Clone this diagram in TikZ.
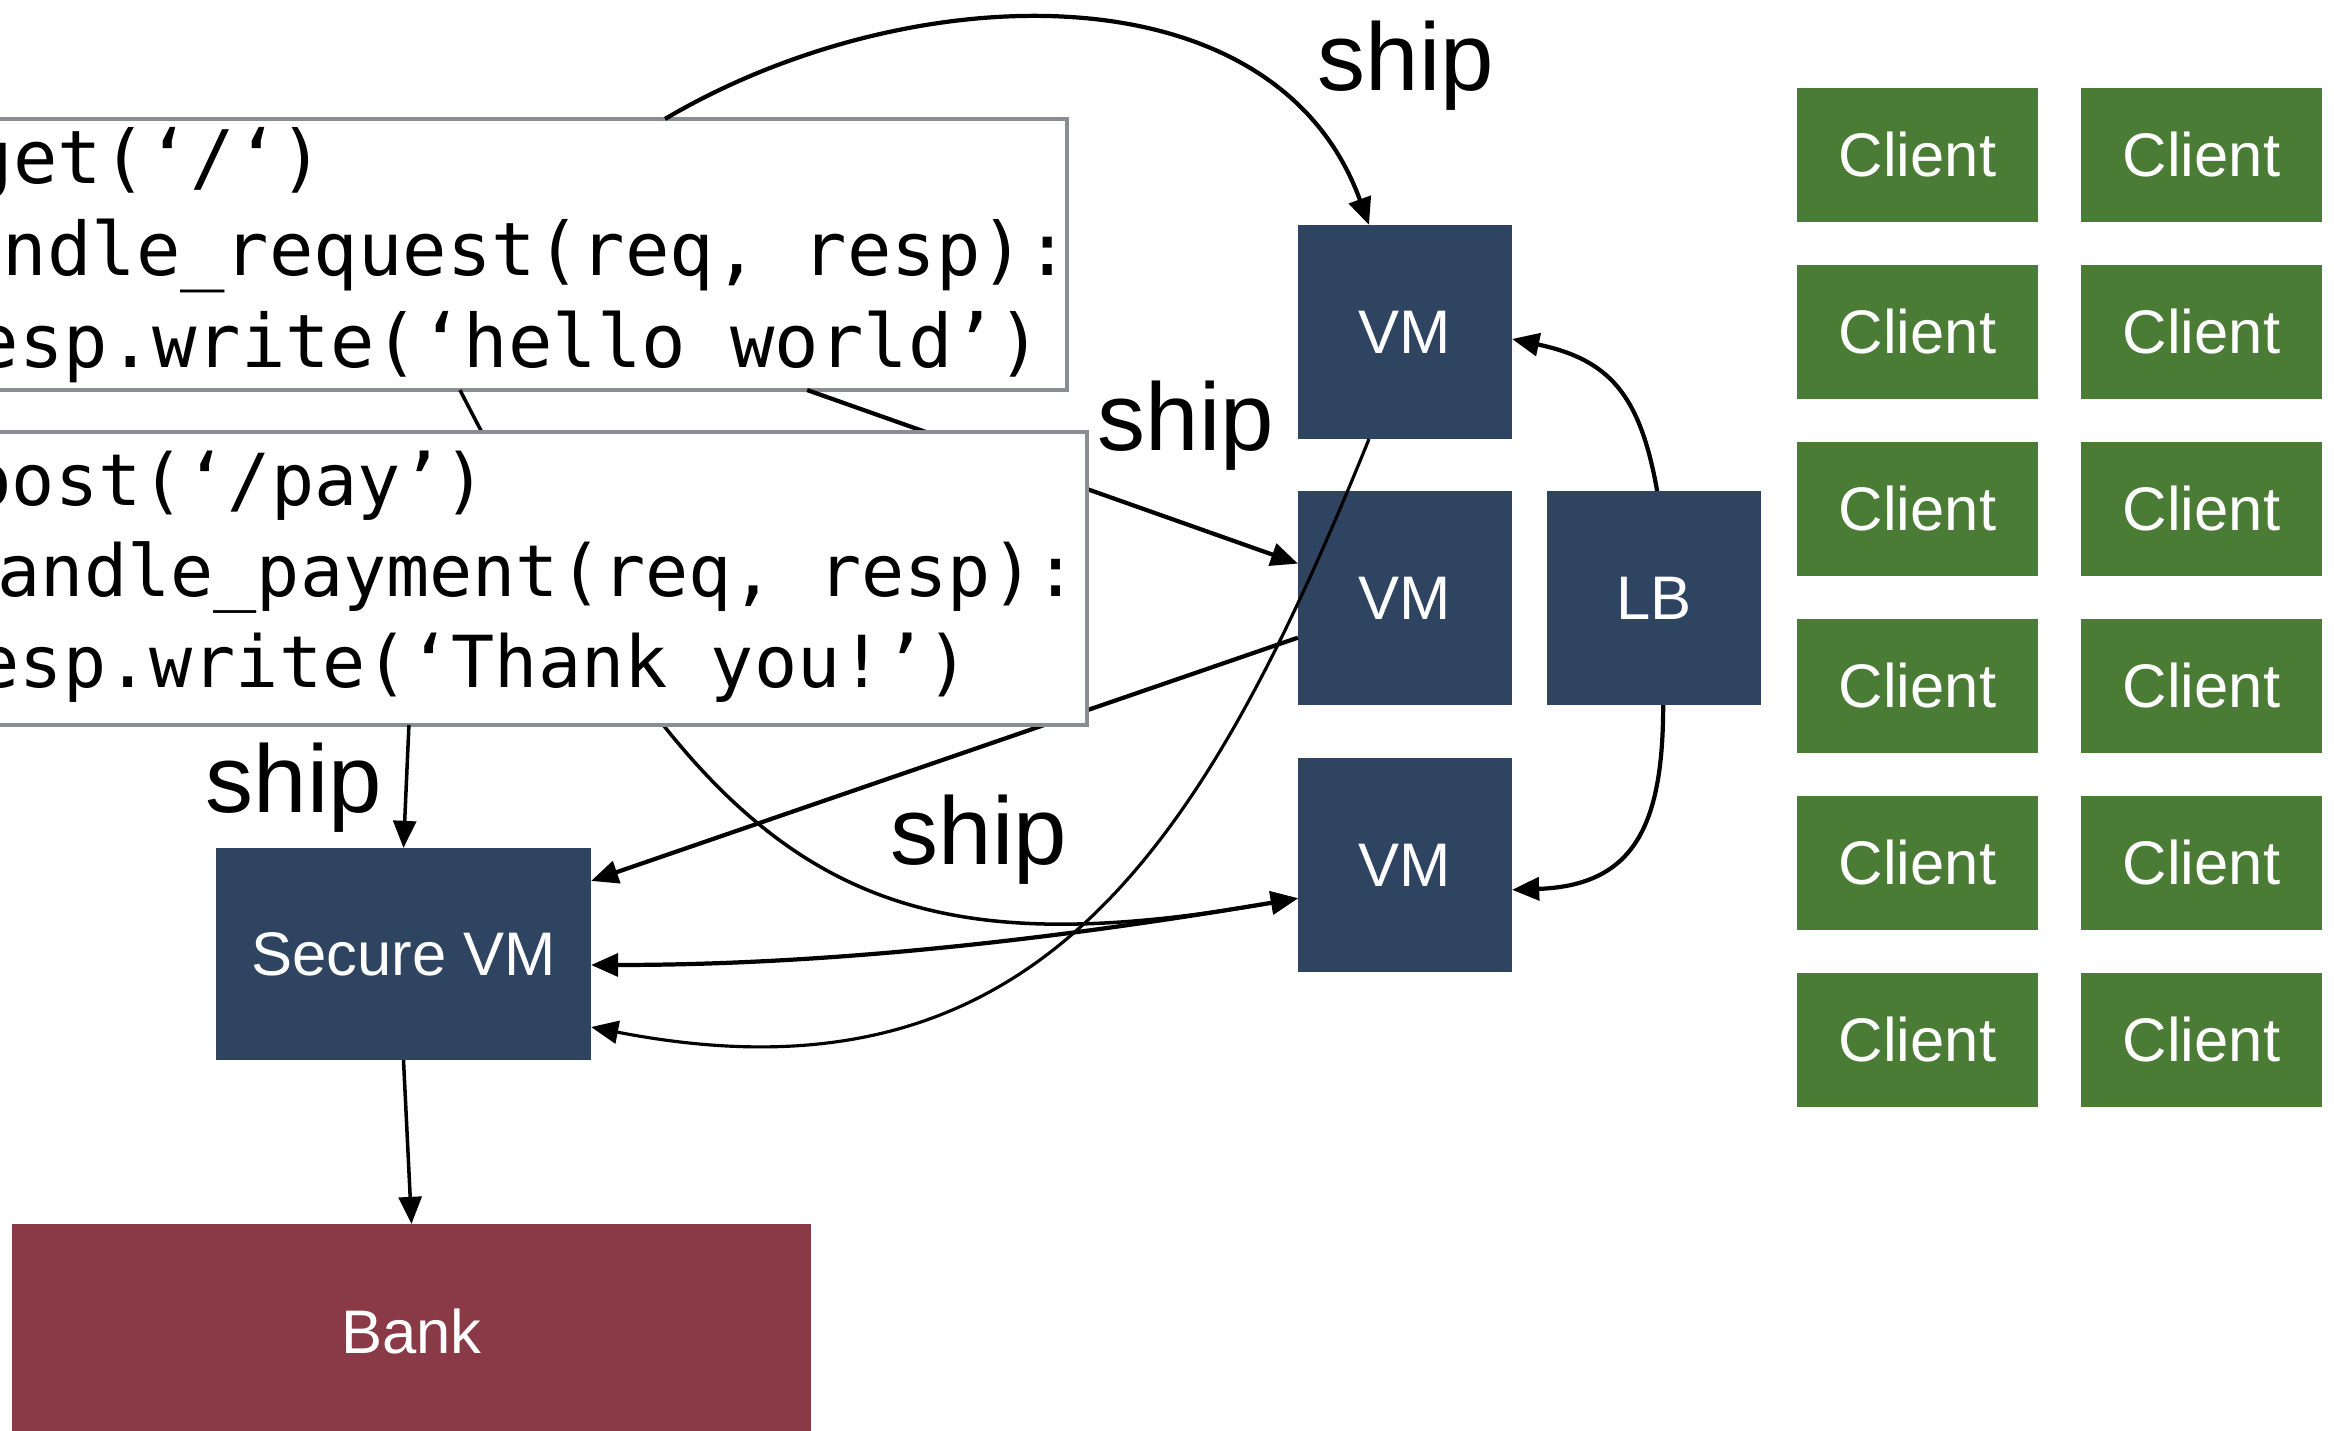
\documentclass[tikz,border=0pt]{standalone}
\usepackage{fontspec}
\setmainfont{Liberation Sans}
\newfontfamily\codefont{DejaVu Sans Mono}
\usetikzlibrary{arrows.meta,positioning}

\definecolor{vmblue}{HTML}{2F4461}
\definecolor{clientgreen}{HTML}{4A7C36}
\definecolor{bankred}{HTML}{8A3947}
\definecolor{codegray}{HTML}{8A8D91}

\tikzset{
  box/.style={fill=vmblue, text=white, inner sep=0pt, outer sep=0pt,
    font=\fontsize{17.5pt}{20pt}\selectfont},
  vm/.style={box, minimum width=2.14cm, minimum height=2.14cm},
  client/.style={box, fill=clientgreen, minimum width=2.41cm, minimum height=1.34cm},
  codebox/.style={draw=codegray, line width=1.1pt, fill=white, inner sep=0pt, outer sep=0pt},
  codeline/.style={anchor=base west, inner sep=0pt},
  shiplabel/.style={anchor=base west, inner sep=0pt, font=\fontsize{27.3pt}{30pt}\selectfont},
  flow/.style={->, line width=1.2pt},
}

\begin{document}
\begin{tikzpicture}[x=0.01cm, y=0.01cm, >={Triangle[length=7.7pt,width=6.5pt]}]
    \useasboundingbox (0,0) rectangle (2334,1431);

    % clients, two columns
    \foreach \row in {0,...,5}
      \foreach \col in {0,1}
        \node[client] (client-\row-\col) at ({1917.5+284*\col},{1276-177*\row}) {Client};

    \node[vm] (vm1) at (1405,1099) {VM};
    \node[vm, below=0.52cm of vm1] (vm2) {VM};
    \node[vm, below=0.53cm of vm2] (vm3) {VM};
    \node[vm, right=0.35cm of vm2] (lb) {LB};
    \node[box, minimum width=3.75cm, minimum height=2.12cm] (secure) at (403.5,477) {Secure VM};
    \node[box, fill=bankred, minimum width=7.99cm, minimum height=2.16cm] (bank) at (411.5,99) {Bank};

    % get handler
    \node[codebox, minimum width=11.07cm, minimum height=2.71cm] (get) at (513.5,1176.5) {};
    \begin{scope}[every node/.style={codeline, font=\codefont\fontsize{21pt}{25pt}\selectfont}]
      \node (get-1) at (-32,1247) {get(‘/‘)};
      \node (get-2) at (2,1155) {ndle\_request(req, resp):};
      \node (get-3) at (-26,1063) {esp.write(‘hello world’)};
    \end{scope}

    % these run under the pay handler
    \draw[flow] ([xshift=2.935cm]get.south) -- ([yshift=0.345cm]vm2.west);
    \draw[flow, line width=1pt] ([xshift=-0.535cm]get.south) .. controls (711,552) and (855,456) .. ([yshift=-0.33cm]vm3.west);
    \draw[flow] ([yshift=-0.395cm]vm2.west) -- ([yshift=0.73cm]secure.east);

    % pay handler
    \node[codebox, minimum width=11.27cm, minimum height=2.93cm] (post) at (523.5,852.5) {};
    \begin{scope}[every node/.style={codeline, font=\codefont\fontsize{20.4pt}{25pt}\selectfont}]
      \node (post-1) at (-32,925) {post(‘/pay’)};
      \node (post-2) at (-3,834) {andle\_payment(req, resp):};
      \node (post-3) at (-24,743) {esp.write(‘Thank you!’)};
    \end{scope}

    \draw[flow] ([xshift=1.515cm]get.north) .. controls (907,1455) and (1274,1468) .. ([xshift=-0.36cm]vm1.north);
    \draw[flow, <->] ([yshift=-0.11cm]secure.east) .. controls (841,466) and (1068,494) .. ([yshift=-0.33cm]vm3.west);
    \draw[flow, line width=0.9pt] ([xshift=-0.36cm]vm1.south) .. controls (1200,575) and (1033,318) .. ([yshift=-0.73cm]secure.east);
    \draw[flow, line width=1pt] ([xshift=-1.145cm]post.south) -- (secure.north);
    \draw[flow, line width=1pt] (secure.south) -- (bank.north);
    \draw[flow] ([xshift=0.03cm]lb.north) to[out=100,in=-12,looseness=1.2] ([yshift=-0.07cm]vm1.east);
    \draw[flow] ([xshift=0.09cm]lb.south) to[out=-90,in=2,looseness=1.3] ([yshift=-0.245cm]vm3.east);

    \node[shiplabel] (ship-top) at (1317,1340) {ship};
    \node[shiplabel] (ship-mid) at (1097,980) {ship};
    \node[shiplabel] (ship-left) at (205,618) {ship};
    \node[shiplabel] (ship-low) at (890,566) {ship};
\end{tikzpicture}
\end{document}
